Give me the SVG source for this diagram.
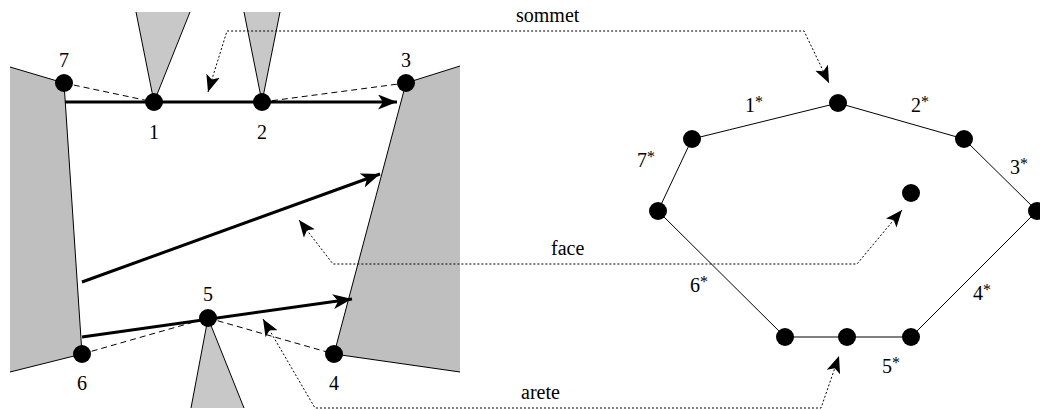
<svg xmlns="http://www.w3.org/2000/svg" width="1040" height="410" viewBox="0 0 1040 410">
<style>
text{font-family:"Liberation Serif","Times New Roman",serif;font-size:20px;fill:#000}
.gray{fill:#bfbfbf;stroke:none}
.wedge{fill:#c8c8c8;stroke:none}
.edge{fill:none;stroke:#000;stroke-width:1}
.dash{fill:none;stroke:#000;stroke-width:1;stroke-dasharray:6 4}
.thick{fill:none;stroke:#000;stroke-width:3;marker-end:url(#ah)}
.dot{fill:none;stroke:#000;stroke-width:1;stroke-dasharray:2 2;marker-end:url(#ahs);marker-start:url(#ahs)}
.node{fill:#000}
.sup{font-size:16px}
</style>
<defs>
<marker id="ah" markerUnits="userSpaceOnUse" markerWidth="22" markerHeight="16" refX="19" refY="7.5" orient="auto"><path d="M0,0 L19,7.5 L0,15 L5,7.5 z" fill="#000"/></marker>
<marker id="ahs" markerUnits="userSpaceOnUse" markerWidth="20" markerHeight="16" refX="17" refY="7" orient="auto-start-reverse"><path d="M0,0 L17,7 L0,14 L4,7 z" fill="#000"/></marker>
</defs>
<g id="shapes">
<polygon class="gray" points="10,67 64,83 82,354 10,372"/>
<polyline class="edge" points="10,67 64,83 82,354 10,372"/>
<polygon class="gray" points="460,66 406,83 334,354 460,372"/>
<polyline class="edge" points="460,66 406,83 334,354 460,372"/>
<polygon class="wedge" points="136,12 190,12 154,102"/>
<polyline class="edge" points="136,12 154,102 190,12"/>
<polygon class="wedge" points="244,12 280,12 262,102"/>
<polyline class="edge" points="244,12 262,102 280,12"/>
<polygon class="wedge" points="191,408 244,408 208,318"/>
<polyline class="edge" points="191,408 208,318 244,408"/>
</g>
<g id="connectors">
<line class="dash" x1="64" y1="83" x2="154" y2="102"/>
<line class="dash" x1="262" y1="102" x2="406" y2="83"/>
<line class="dash" x1="82" y1="354" x2="208" y2="318"/>
<line class="dash" x1="208" y1="318" x2="334" y2="354"/>
<line class="thick" x1="65" y1="102" x2="397" y2="102"/>
<line class="thick" x1="82" y1="282" x2="380" y2="174"/>
<line class="thick" x1="82" y1="337" x2="352" y2="299"/>
<polyline class="edge" points="838,103 692,139 658,211 785,337 847,337 911,337 1037,211 964,139 838,103"/>
<polyline class="dot" points="208,92 227,31 804,31 829,83"/>
<polyline class="dot" points="299,220 333,264 857,264 902,210"/>
<polyline class="dot" points="263,319 315,408 821,408 839,356"/>
</g>
<g id="nodes-left">
<g id="n7"><circle class="node" cx="64" cy="83" r="9"/><text x="64" y="67" text-anchor="middle">7</text></g>
<g id="n1"><circle class="node" cx="154" cy="102" r="9"/><text x="154" y="139" text-anchor="middle">1</text></g>
<g id="n2"><circle class="node" cx="262" cy="102" r="9"/><text x="262" y="139" text-anchor="middle">2</text></g>
<g id="n3"><circle class="node" cx="406" cy="83" r="9"/><text x="406" y="67" text-anchor="middle">3</text></g>
<g id="n5"><circle class="node" cx="208" cy="318" r="9"/><text x="208" y="301" text-anchor="middle">5</text></g>
<g id="n6"><circle class="node" cx="82" cy="354" r="9"/><text x="82" y="390" text-anchor="middle">6</text></g>
<g id="n4"><circle class="node" cx="334" cy="354" r="9"/><text x="334" y="390" text-anchor="middle">4</text></g>
</g>
<g id="nodes-right">
<g id="d-top"><circle class="node" cx="838" cy="103" r="9"/></g>
<g id="d-ul"><circle class="node" cx="692" cy="139" r="9"/></g>
<g id="d-ur"><circle class="node" cx="964" cy="139" r="9"/></g>
<g id="d-l"><circle class="node" cx="658" cy="211" r="9"/></g>
<g id="d-r"><circle class="node" cx="1037" cy="211" r="9"/></g>
<g id="d-bl"><circle class="node" cx="785" cy="337" r="9"/></g>
<g id="d-bm"><circle class="node" cx="847" cy="337" r="9"/></g>
<g id="d-br"><circle class="node" cx="911" cy="337" r="9"/></g>
<g id="d-in"><circle class="node" cx="911" cy="193" r="9"/></g>
</g>
<g id="labels">
<text x="745" y="112">1<tspan class="sup" dy="-5">*</tspan></text>
<text x="911" y="112">2<tspan class="sup" dy="-5">*</tspan></text>
<text x="637" y="167">7<tspan class="sup" dy="-5">*</tspan></text>
<text x="1010" y="174">3<tspan class="sup" dy="-5">*</tspan></text>
<text x="690" y="292">6<tspan class="sup" dy="-5">*</tspan></text>
<text x="973" y="300">4<tspan class="sup" dy="-5">*</tspan></text>
<text x="882" y="373">5<tspan class="sup" dy="-5">*</tspan></text>
<text x="516" y="22">sommet</text>
<text x="551" y="255">face</text>
<text x="521" y="399">arete</text>
</g>
</svg>
